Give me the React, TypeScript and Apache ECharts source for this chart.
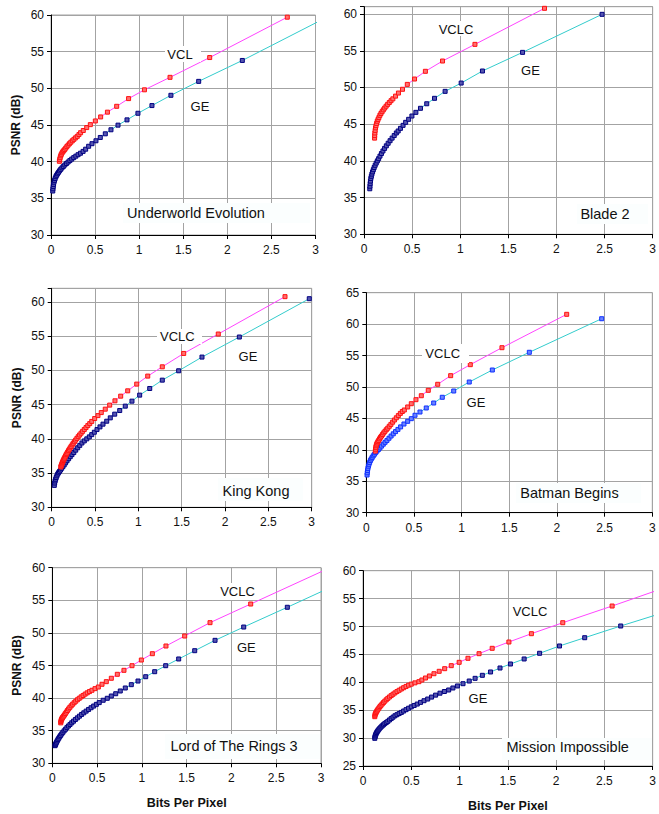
import React, { useEffect, useRef } from "react";
import * as echarts from "echarts";

const FONT = '"Liberation Sans", Arial, Helvetica, sans-serif';

// ---------- data ----------
const titles = ["Underworld Evolution", "Blade 2", "King Kong", "Batman Begins", "Lord of The Rings 3", "Mission Impossible"];
const upperNames = ["VCL", "VCLC", "VCLC", "VCLC", "VCLC", "VCLC"];
const lowerNames = ["GE", "GE", "GE", "GE", "GE", "GE"];
const xTickMin = 0;
const xTickMax = 3;
const xTickStep = 0.5;
const yTickMins = [30, 30, 30, 30, 30, 25];
const yTickMaxs = [60, 61, 62, 65, 60, 60];
const yTickStep = 5;
const xAxisTitle = "Bits Per Pixel";
const yAxisTitle = "PSNR (dB)";

type P = [number, number];

const uwVcl: P[] = [[0.095,40.05],[0.099,40.3],[0.104,40.55],[0.11,40.8],[0.117,41.0],[0.125,41.2],[0.134,41.35],[0.144,41.5],[0.155,41.65],[0.167,41.85],[0.18,42.05],[0.194,42.25],[0.209,42.45],[0.225,42.65],[0.242,42.85],[0.26,43.05],[0.279,43.25],[0.298,43.45],[0.317,43.7],[0.336,43.95],[0.366,44.25],[0.405,44.65],[0.446,45.05],[0.503,45.55],[0.563,46.1],[0.64,46.75],[0.745,47.55],[0.88,48.6],[1.06,49.8],[1.35,51.5],[1.8,54.2],[2.68,59.7]];
const uwGe: P[] = [[0.02,36.0],[0.022,36.3],[0.025,36.6],[0.029,36.9],[0.034,37.2],[0.04,37.45],[0.047,37.7],[0.055,37.95],[0.064,38.15],[0.074,38.35],[0.085,38.55],[0.097,38.75],[0.11,38.95],[0.124,39.15],[0.14,39.35],[0.157,39.55],[0.175,39.75],[0.194,39.95],[0.214,40.15],[0.235,40.35],[0.258,40.55],[0.282,40.75],[0.307,40.95],[0.334,41.15],[0.364,41.4],[0.393,41.7],[0.427,42.1],[0.465,42.45],[0.51,42.85],[0.559,43.3],[0.616,43.8],[0.68,44.35],[0.76,44.98],[0.862,45.7],[0.986,46.6],[1.145,47.65],[1.36,49.05],[1.675,50.95],[2.17,53.8],[3.6,62.6]];

const b2Vclc: P[] = [[0.11,43.1],[0.111,43.45],[0.113,43.8],[0.116,44.15],[0.12,44.5],[0.125,44.8],[0.131,45.1],[0.138,45.4],[0.146,45.65],[0.155,45.9],[0.165,46.2],[0.176,46.45],[0.188,46.7],[0.201,46.95],[0.215,47.2],[0.23,47.45],[0.246,47.7],[0.263,47.95],[0.281,48.2],[0.3,48.45],[0.328,48.82],[0.358,49.24],[0.4,49.75],[0.45,50.42],[0.525,51.15],[0.638,52.2],[0.816,53.6],[1.153,55.87],[1.876,60.78]];
const b2Ge: P[] = [[0.06,36.2],[0.062,36.55],[0.064,36.9],[0.067,37.25],[0.071,37.6],[0.076,37.9],[0.082,38.2],[0.089,38.5],[0.097,38.8],[0.106,39.1],[0.116,39.4],[0.127,39.7],[0.139,40.0],[0.152,40.3],[0.166,40.65],[0.181,41.0],[0.197,41.35],[0.214,41.7],[0.232,42.05],[0.251,42.4],[0.271,42.75],[0.292,43.1],[0.314,43.45],[0.336,43.8],[0.355,44.07],[0.379,44.43],[0.406,44.84],[0.433,45.25],[0.464,45.66],[0.498,46.11],[0.539,46.61],[0.587,47.16],[0.652,47.78],[0.733,48.52],[0.843,49.47],[1.01,50.6],[1.231,52.24],[1.648,54.78],[2.474,59.96]];

const kkVclc: P[] = [[0.105,35.9],[0.109,36.05],[0.113,36.2],[0.118,36.36],[0.123,36.52],[0.128,36.67],[0.134,36.84],[0.14,37.0],[0.146,37.16],[0.153,37.34],[0.16,37.51],[0.168,37.7],[0.176,37.88],[0.185,38.08],[0.194,38.28],[0.204,38.48],[0.214,38.69],[0.225,38.9],[0.237,39.13],[0.249,39.35],[0.262,39.58],[0.276,39.82],[0.291,40.07],[0.306,40.32],[0.322,40.57],[0.339,40.83],[0.357,41.1],[0.376,41.37],[0.396,41.65],[0.417,41.94],[0.439,42.23],[0.462,42.55],[0.496,42.97],[0.534,43.4],[0.572,43.84],[0.618,44.34],[0.669,44.93],[0.73,45.56],[0.796,46.24],[0.877,47.02],[0.981,48.0],[1.108,49.17],[1.276,50.53],[1.523,52.48],[1.922,55.32],[2.692,60.78]];
const kkGe: P[] = [[0.03,33.2],[0.034,33.55],[0.039,33.85],[0.045,34.1],[0.052,34.35],[0.06,34.6],[0.069,34.85],[0.079,35.05],[0.09,35.25],[0.102,35.45],[0.115,35.7],[0.129,35.95],[0.144,36.2],[0.16,36.5],[0.177,36.8],[0.195,37.1],[0.214,37.4],[0.234,37.7],[0.255,38.0],[0.277,38.35],[0.3,38.7],[0.324,39.05],[0.349,39.4],[0.376,39.7],[0.405,40.0],[0.434,40.29],[0.462,40.62],[0.492,40.97],[0.523,41.36],[0.557,41.75],[0.592,42.15],[0.635,42.58],[0.676,43.07],[0.727,43.61],[0.785,44.14],[0.849,44.78],[0.926,45.51],[1.015,46.39],[1.131,47.36],[1.276,48.58],[1.465,49.95],[1.734,51.95],[2.165,54.88],[2.972,60.48]];

const bbVclc: P[] = [[0.095,39.8],[0.097,40.1],[0.1,40.4],[0.104,40.65],[0.109,40.9],[0.115,41.1],[0.122,41.3],[0.13,41.5],[0.139,41.75],[0.149,42.0],[0.16,42.2],[0.171,42.45],[0.183,42.7],[0.196,42.95],[0.21,43.2],[0.225,43.45],[0.241,43.75],[0.258,44.05],[0.276,44.4],[0.295,44.75],[0.315,45.1],[0.336,45.45],[0.357,45.8],[0.378,46.1],[0.399,46.34],[0.434,46.82],[0.472,47.34],[0.521,47.98],[0.577,48.61],[0.65,49.47],[0.749,50.43],[0.885,51.8],[1.091,53.55],[1.423,56.25],[2.102,61.56]];
const bbGe: P[] = [[0.008,36.0],[0.01,36.35],[0.013,36.7],[0.017,37.05],[0.022,37.4],[0.028,37.7],[0.035,38.0],[0.043,38.3],[0.052,38.55],[0.062,38.8],[0.073,39.05],[0.085,39.3],[0.098,39.55],[0.112,39.8],[0.127,40.05],[0.143,40.3],[0.16,40.6],[0.178,40.9],[0.197,41.2],[0.217,41.5],[0.238,41.85],[0.26,42.2],[0.283,42.55],[0.307,42.9],[0.332,43.25],[0.36,43.65],[0.395,44.11],[0.434,44.54],[0.472,44.96],[0.511,45.5],[0.563,46.02],[0.629,46.66],[0.707,47.45],[0.797,48.36],[0.917,49.36],[1.08,50.79],[1.322,52.7],[1.71,55.52],[2.469,60.86]];

const lrVclc: P[] = [[0.094,36.2],[0.096,36.4],[0.099,36.58],[0.103,36.73],[0.108,36.86],[0.113,36.98],[0.119,37.1],[0.127,37.25],[0.136,37.42],[0.146,37.63],[0.157,37.86],[0.169,38.1],[0.182,38.34],[0.196,38.58],[0.211,38.82],[0.227,39.06],[0.244,39.29],[0.262,39.52],[0.281,39.75],[0.301,39.97],[0.322,40.19],[0.344,40.4],[0.367,40.61],[0.39,40.81],[0.415,41.0],[0.443,41.2],[0.477,41.45],[0.514,41.7],[0.555,42.12],[0.603,42.52],[0.659,43.04],[0.726,43.65],[0.8,44.26],[0.89,44.97],[0.994,45.84],[1.117,46.81],[1.269,47.99],[1.478,49.52],[1.761,51.57],[2.215,54.43],[3.3,61.25]];
const lrGe: P[] = [[0.03,32.7],[0.033,32.8],[0.037,32.93],[0.042,33.08],[0.048,33.25],[0.055,33.44],[0.063,33.64],[0.072,33.84],[0.082,34.06],[0.093,34.28],[0.105,34.51],[0.118,34.75],[0.132,34.98],[0.147,35.22],[0.163,35.47],[0.18,35.72],[0.198,35.96],[0.217,36.21],[0.237,36.46],[0.258,36.72],[0.28,36.97],[0.303,37.23],[0.327,37.49],[0.352,37.74],[0.378,38.0],[0.405,38.26],[0.433,38.52],[0.462,38.78],[0.492,39.04],[0.524,39.31],[0.568,39.67],[0.614,39.97],[0.659,40.32],[0.708,40.67],[0.759,41.09],[0.815,41.55],[0.882,42.06],[0.957,42.62],[1.043,43.28],[1.143,44.05],[1.266,44.97],[1.411,46.0],[1.59,47.27],[1.817,48.86],[2.137,50.9],[2.624,53.93],[3.3,58.2]];

const miVclc: P[] = [[0.122,33.84],[0.124,34.1],[0.127,34.3],[0.131,34.45],[0.136,34.6],[0.142,34.8],[0.149,35.0],[0.157,35.2],[0.166,35.42],[0.176,35.65],[0.187,35.88],[0.199,36.12],[0.212,36.37],[0.226,36.62],[0.241,36.87],[0.257,37.12],[0.274,37.37],[0.292,37.62],[0.311,37.86],[0.331,38.1],[0.352,38.34],[0.374,38.57],[0.397,38.8],[0.421,39.03],[0.446,39.26],[0.472,39.48],[0.5,39.67],[0.538,39.9],[0.579,40.11],[0.61,40.41],[0.647,40.77],[0.688,41.13],[0.735,41.54],[0.789,41.97],[0.846,42.44],[0.914,42.98],[0.996,43.58],[1.087,44.3],[1.202,45.13],[1.338,46.09],[1.511,47.22],[1.744,48.71],[2.069,50.68],[2.58,53.67],[3.2,57.4]];
const miGe: P[] = [[0.122,29.96],[0.124,30.2],[0.127,30.4],[0.131,30.6],[0.136,30.8],[0.142,31.0],[0.149,31.2],[0.157,31.4],[0.166,31.6],[0.176,31.8],[0.187,32.0],[0.199,32.2],[0.212,32.4],[0.226,32.6],[0.241,32.8],[0.257,33.0],[0.274,33.25],[0.292,33.5],[0.311,33.75],[0.331,34.0],[0.352,34.2],[0.374,34.4],[0.397,34.6],[0.421,34.85],[0.446,35.1],[0.472,35.35],[0.5,35.6],[0.53,35.85],[0.562,36.1],[0.596,36.4],[0.632,36.7],[0.67,37.0],[0.71,37.35],[0.752,37.7],[0.797,38.05],[0.843,38.35],[0.887,38.62],[0.931,38.98],[0.978,39.34],[1.036,39.75],[1.1,40.23],[1.161,40.71],[1.236,41.25],[1.321,41.85],[1.419,42.56],[1.527,43.28],[1.669,44.18],[1.829,45.2],[2.035,46.51],[2.296,47.99],[2.669,50.09],[3.3,53.5]];

const upperSeries: P[][] = [uwVcl, b2Vclc, kkVclc, bbVclc, lrVclc, miVclc];
const lowerSeries: P[][] = [uwGe, b2Ge, kkGe, bbGe, lrGe, miGe];

// ---------- layout / style ----------
type Box = { tx: number; ty: number; x: number; y: number; w: number; h: number };
type Layout = {
  grid: { left: number; top: number; width: number; height: number };
  yName: boolean; xName: boolean;
  up: Box; low: Box; title: Box;
  geMarker: string; geFill: string;
};
const layouts: Layout[] = [
  { grid: { left: 51, top: 15, width: 264.5, height: 220 }, yName: true, xName: false,
    up: { tx: 180, ty: 54, x: 165, y: 46, w: 36, h: 16 },
    low: { tx: 200, ty: 106, x: 187, y: 98, w: 31, h: 16 },
    title: { tx: 196, ty: 213, x: 123, y: 203, w: 187, h: 20 }, geMarker: "#000080", geFill: "#5656b0" },
  { grid: { left: 364, top: 6.7, width: 293, height: 227.6 }, yName: false, xName: false,
    up: { tx: 456, ty: 29, x: 437, y: 21, w: 39, h: 15 },
    low: { tx: 530.5, ty: 70, x: 517, y: 63, w: 27, h: 14 },
    title: { tx: 605, ty: 214, x: 577, y: 204, w: 71, h: 20 }, geMarker: "#000080", geFill: "#5656b0" },
  { grid: { left: 51.7, top: 288.3, width: 260, height: 219 }, yName: true, xName: false,
    up: { tx: 177.3, ty: 336, x: 157, y: 329, w: 45, h: 15 },
    low: { tx: 248, ty: 356, x: 232, y: 348, w: 33, h: 15 },
    title: { tx: 256, ty: 490.5, x: 218, y: 478, w: 85, h: 23 }, geMarker: "#000080", geFill: "#5656b0" },
  { grid: { left: 366.3, top: 292.7, width: 286, height: 220 }, yName: false, xName: false,
    up: { tx: 442.7, ty: 353.5, x: 422, y: 344, w: 47, h: 19 },
    low: { tx: 476, ty: 402, x: 464, y: 394, w: 33, h: 14 },
    title: { tx: 569.5, ty: 493.3, x: 516, y: 483, w: 125, h: 20 }, geMarker: "#1030ff", geFill: "#6a84ff" },
  { grid: { left: 52.3, top: 567.7, width: 268.7, height: 195.6 }, yName: true, xName: true,
    up: { tx: 237.5, ty: 591.7, x: 217, y: 583, w: 41, h: 17 },
    low: { tx: 246.3, ty: 647.5, x: 233, y: 638, w: 34, h: 17 },
    title: { tx: 234, ty: 746, x: 165, y: 734, w: 155, h: 25 }, geMarker: "#000080", geFill: "#5656b0" },
  { grid: { left: 363, top: 570.7, width: 295.3, height: 195.3 }, yName: false, xName: true,
    up: { tx: 530, ty: 611.3, x: 509, y: 603, w: 43, h: 16 },
    low: { tx: 478, ty: 698, x: 466, y: 689, w: 36, h: 17 },
    title: { tx: 567.7, ty: 747.3, x: 502, y: 738, w: 150, h: 22 }, geMarker: "#000080", geFill: "#5656b0" },
];

const GRID_COLOR = "#a3a3a3";
const VCL_LINE = "#ff44ff";
const GE_LINE = "#33cccc";
const VCL_MARK = "#ff1010";

function buildOption() {
  const grid: any[] = [];
  const xAxis: any[] = [];
  const yAxis: any[] = [];
  const series: any[] = [];
  const graphic: any[] = [];

  layouts.forEach((L, i) => {
    grid.push({ ...L.grid, show: true, borderColor: GRID_COLOR, borderWidth: 1, containLabel: false });
    xAxis.push({
      type: "value", gridIndex: i, min: xTickMin, max: xTickMax, interval: xTickStep,
      axisLine: { show: true, onZero: false, lineStyle: { color: "#000", width: 1 } },
      axisTick: { show: true, length: 4, lineStyle: { color: "#000" } },
      axisLabel: { color: "#111", fontSize: 12, fontFamily: FONT, margin: 9 },
      splitLine: { show: true, lineStyle: { color: GRID_COLOR, width: 1 } },
      name: L.xName ? xAxisTitle : "",
      nameLocation: "middle", nameGap: 33,
      nameTextStyle: { color: "#111", fontSize: 12.5, fontWeight: "bold", fontFamily: FONT },
    });
    yAxis.push({
      type: "value", gridIndex: i, min: yTickMins[i], max: yTickMaxs[i], interval: yTickStep,
      axisLine: { show: true, onZero: false, lineStyle: { color: "#000", width: 1 } },
      axisTick: { show: true, length: 4, lineStyle: { color: "#000" } },
      axisLabel: {
        color: "#111", fontSize: 12, fontFamily: FONT, margin: 7,
        formatter: (v: number) => (Math.abs(v % yTickStep) < 1e-9 ? String(v) : ""),
      },
      splitLine: { show: true, lineStyle: { color: GRID_COLOR, width: 1 } },
      name: L.yName ? yAxisTitle : "",
      nameLocation: "middle", nameGap: 29, nameRotate: 90,
      nameTextStyle: { color: "#111", fontSize: 12, fontWeight: "bold", fontFamily: FONT },
    });
    series.push({
      type: "line", name: lowerNames[i], xAxisIndex: i, yAxisIndex: i, data: lowerSeries[i],
      symbol: "rect", symbolSize: 4, showSymbol: true, clip: true, silent: true,
      lineStyle: { color: GE_LINE, width: 1 },
      itemStyle: { color: L.geFill, borderColor: L.geMarker, borderWidth: 1 },
      emphasis: { disabled: true }, z: 2,
    });
    series.push({
      type: "line", name: upperNames[i], xAxisIndex: i, yAxisIndex: i, data: upperSeries[i],
      symbol: "rect", symbolSize: 4, showSymbol: true, clip: true, silent: true,
      lineStyle: { color: VCL_LINE, width: 1 },
      itemStyle: { color: "#ff7070", borderColor: VCL_MARK, borderWidth: 1 },
      emphasis: { disabled: true }, z: 3,
    });

    const boxes: [Box, string, number, string][] = [
      [L.up, upperNames[i], 13, "#ffffff"],
      [L.low, lowerNames[i], 13, "#ffffff"],
      [L.title, titles[i], 14.5, "#fbfefe"],
    ];
    boxes.forEach(([b, txt, fs, fill]) => {
      graphic.push({
        type: "rect", shape: { x: b.x, y: b.y, width: b.w, height: b.h },
        style: { fill, stroke: null }, z: 100, silent: true,
      });
      graphic.push({
        type: "text", x: b.tx, y: b.ty, z: 101, silent: true,
        style: { text: txt, fill: "#111", font: `${fs}px ${FONT}`, textAlign: "center", textVerticalAlign: "middle" },
      });
    });
  });

  return {
    animation: false,
    backgroundColor: "#ffffff",
    textStyle: { fontFamily: FONT },
    grid, xAxis, yAxis, series, graphic,
  };
}

export default function App() {
  const ref = useRef<HTMLDivElement>(null);
  useEffect(() => {
    if (!ref.current) return;
    const chart = echarts.init(ref.current, null, { renderer: "svg" });
    chart.setOption(buildOption() as any);
    return () => chart.dispose();
  }, []);
  return (
    <div
      ref={ref}
      style={{ position: "absolute", left: 0, top: 0, width: 659, height: 814, background: "#fff" }}
    />
  );
}
